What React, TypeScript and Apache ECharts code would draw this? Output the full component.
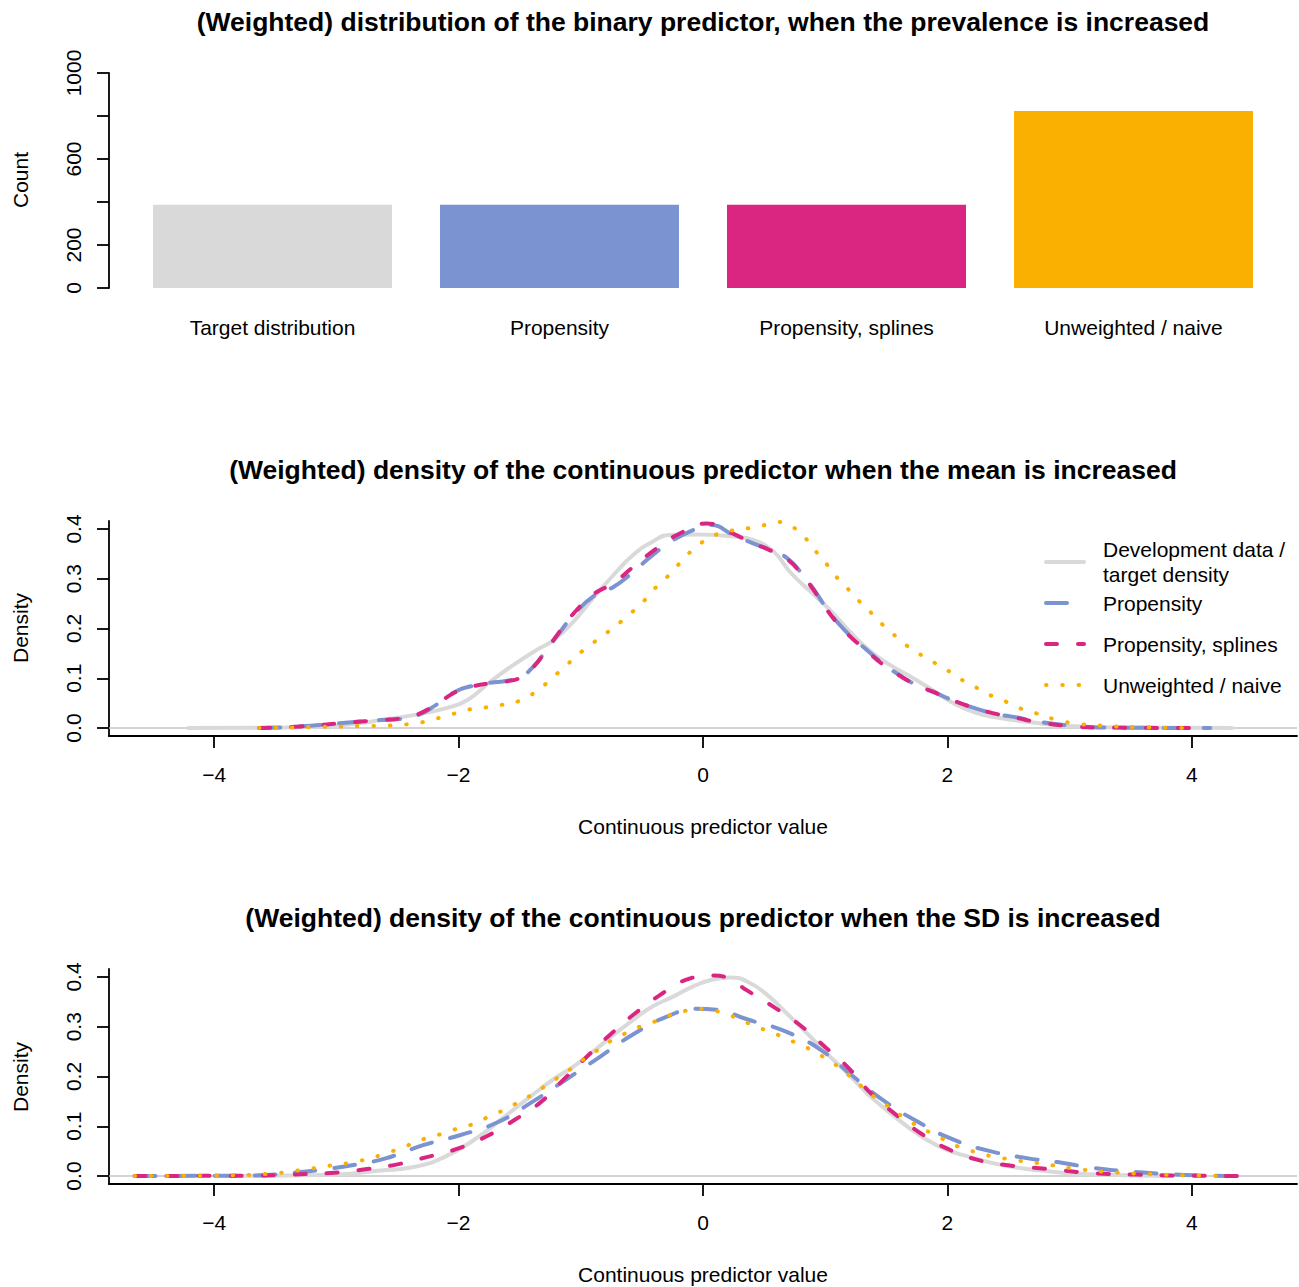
import React, { useEffect, useRef } from 'react';
import * as echarts from 'echarts';

// ---------- Data ----------
const barCategories = ['Target distribution', 'Propensity', 'Propensity, splines', 'Unweighted / naive'];
const barCounts = [387, 387, 387, 823];
const barColors = ['#D9D9D9', '#7B93D0', '#DA2680', '#F9B000'];
const countTicks = [0, 200, 400, 600, 800, 1000];
const countLabels = [0, 200, 600, 1000];

const densityXTicks = [-4, -2, 0, 2, 4];
const densityYTicks = [0, 0.1, 0.2, 0.3, 0.4];

const seriesNames = ['Development data /\ntarget density', 'Propensity', 'Propensity, splines', 'Unweighted / naive'];
const seriesColors = ['#D9D9D9', '#7B93D0', '#DA2680', '#F9B000'];

const titles = [
  '(Weighted) distribution of the binary predictor, when the prevalence is increased',
  '(Weighted) density of the continuous predictor when the mean is increased',
  '(Weighted) density of the continuous predictor when the SD is increased',
];

// Mean increased
const meanTarget = [
  [-4.21, 0], [-3.6, 0.0005], [-3.1, 0.003], [-2.8, 0.01], [-2.64, 0.016], [-2.37, 0.026], [-2.1, 0.04],
  [-1.93, 0.056], [-1.74, 0.093], [-1.55, 0.127], [-1.36, 0.157], [-1.22, 0.177], [-1.06, 0.214], [-0.9, 0.261],
  [-0.73, 0.308], [-0.57, 0.348], [-0.41, 0.375], [-0.27, 0.388], [-0.05, 0.389], [0.25, 0.385], [0.41, 0.378],
  [0.58, 0.354], [0.71, 0.314], [0.88, 0.274], [1.04, 0.237], [1.2, 0.194], [1.37, 0.154], [1.53, 0.127],
  [1.72, 0.1], [1.88, 0.076], [2.05, 0.05], [2.24, 0.03], [2.43, 0.02], [2.7, 0.011], [3.0, 0.004],
  [3.5, 0.001], [4.33, 0],
];
const meanPropensity = [
  [-3.63, 0], [-3.3, 0.003], [-2.9, 0.011], [-2.64, 0.016], [-2.48, 0.018], [-2.35, 0.024], [-2.18, 0.047],
  [-2.02, 0.074], [-1.88, 0.085], [-1.74, 0.091], [-1.6, 0.095], [-1.49, 0.103], [-1.39, 0.123], [-1.28, 0.157],
  [-1.17, 0.193], [-1.06, 0.227], [-0.9, 0.264], [-0.73, 0.284], [-0.57, 0.314], [-0.41, 0.348], [-0.24, 0.378],
  [-0.08, 0.398], [0.06, 0.408], [0.25, 0.388], [0.41, 0.371], [0.55, 0.358], [0.69, 0.341], [0.82, 0.307],
  [0.9, 0.281], [1.01, 0.241], [1.12, 0.207], [1.23, 0.18], [1.34, 0.157], [1.47, 0.13], [1.61, 0.106],
  [1.75, 0.086], [1.88, 0.073], [2.05, 0.055], [2.21, 0.041], [2.37, 0.03], [2.57, 0.021], [2.74, 0.013],
  [3.0, 0.005], [3.3, 0.001], [4.15, 0],
];
const meanSplines = [
  [-3.63, 0], [-3.3, 0.003], [-2.9, 0.011], [-2.64, 0.016], [-2.48, 0.019], [-2.35, 0.026], [-2.18, 0.048],
  [-2.02, 0.073], [-1.88, 0.084], [-1.74, 0.09], [-1.6, 0.094], [-1.49, 0.102], [-1.39, 0.122], [-1.28, 0.157],
  [-1.17, 0.195], [-1.06, 0.23], [-0.9, 0.268], [-0.73, 0.292], [-0.57, 0.324], [-0.38, 0.361], [-0.19, 0.391],
  [0.03, 0.411], [0.25, 0.39], [0.41, 0.371], [0.55, 0.357], [0.69, 0.339], [0.82, 0.305], [0.9, 0.279],
  [1.01, 0.239], [1.12, 0.205], [1.23, 0.178], [1.34, 0.155], [1.47, 0.128], [1.61, 0.105], [1.75, 0.086],
  [1.88, 0.073], [2.05, 0.055], [2.21, 0.041], [2.37, 0.03], [2.57, 0.02], [2.74, 0.012], [3.0, 0.004],
  [3.3, 0.001], [4.02, 0],
];
const meanNaive = [
  [-3.63, 0], [-3.2, 0.002], [-2.8, 0.004], [-2.57, 0.005], [-2.44, 0.007], [-2.31, 0.011], [-2.18, 0.019],
  [-2.05, 0.028], [-1.92, 0.037], [-1.79, 0.041], [-1.66, 0.046], [-1.52, 0.053], [-1.41, 0.066], [-1.3, 0.086],
  [-1.2, 0.108], [-1.1, 0.13], [-1.0, 0.152], [-0.9, 0.171], [-0.79, 0.191], [-0.68, 0.212], [-0.58, 0.233],
  [-0.48, 0.256], [-0.4, 0.279], [-0.3, 0.302], [-0.21, 0.326], [-0.12, 0.35], [-0.02, 0.371], [0.1, 0.388],
  [0.22, 0.396], [0.36, 0.401], [0.49, 0.407], [0.62, 0.414], [0.74, 0.403], [0.84, 0.381], [0.92, 0.356],
  [1.01, 0.33], [1.09, 0.304], [1.18, 0.281], [1.27, 0.257], [1.37, 0.233], [1.46, 0.21], [1.56, 0.188],
  [1.66, 0.167], [1.77, 0.149], [1.88, 0.133], [2.0, 0.116], [2.11, 0.098], [2.23, 0.082], [2.35, 0.066],
  [2.47, 0.054], [2.59, 0.04], [2.72, 0.03], [2.87, 0.018], [3.05, 0.009], [3.25, 0.005], [3.54, 0.002],
  [4.04, 0],
];

// SD increased
const sdTarget = [
  [-3.9, 0], [-3.4, 0.001], [-3.0, 0.003], [-2.64, 0.011], [-2.37, 0.018], [-2.1, 0.04], [-1.83, 0.08],
  [-1.62, 0.12], [-1.41, 0.16], [-1.22, 0.195], [-1.06, 0.22], [-0.9, 0.25], [-0.73, 0.284], [-0.57, 0.314],
  [-0.41, 0.341], [-0.24, 0.361], [-0.08, 0.381], [0.08, 0.395], [0.22, 0.399], [0.36, 0.391], [0.52, 0.365],
  [0.68, 0.328], [0.85, 0.287], [1.01, 0.247], [1.18, 0.207], [1.34, 0.167], [1.5, 0.133], [1.67, 0.1],
  [1.83, 0.073], [1.99, 0.053], [2.16, 0.04], [2.37, 0.026], [2.59, 0.016], [2.76, 0.011], [3.03, 0.005],
  [3.54, 0.001], [3.84, 0],
];
const sdPropensity = [
  [-4.65, 0], [-4.0, 0.0005], [-3.68, 0.001], [-3.37, 0.006], [-3.05, 0.015], [-2.8, 0.025], [-2.59, 0.036],
  [-2.29, 0.062], [-1.99, 0.082], [-1.69, 0.107], [-1.39, 0.15], [-1.12, 0.194], [-0.84, 0.24], [-0.57, 0.285],
  [-0.27, 0.323], [-0.05, 0.336], [0.11, 0.334], [0.36, 0.315], [0.68, 0.29], [0.96, 0.254], [1.23, 0.2],
  [1.47, 0.153], [1.75, 0.11], [2.05, 0.073], [2.35, 0.05], [2.65, 0.036], [2.9, 0.028], [3.15, 0.018],
  [3.4, 0.011], [3.73, 0.005], [4.1, 0.001], [4.38, 0],
];
const sdSplines = [
  [-4.65, 0], [-4.0, 0.0005], [-3.68, 0.001], [-3.37, 0.003], [-2.99, 0.007], [-2.75, 0.014], [-2.53, 0.022],
  [-2.26, 0.038], [-2.02, 0.054], [-1.77, 0.08], [-1.54, 0.113], [-1.33, 0.148], [-1.14, 0.194], [-0.95, 0.24],
  [-0.76, 0.284], [-0.57, 0.324], [-0.35, 0.364], [-0.13, 0.395], [0.08, 0.403], [0.2, 0.398], [0.36, 0.373],
  [0.59, 0.338], [0.79, 0.304], [1.01, 0.257], [1.18, 0.22], [1.37, 0.167], [1.56, 0.127], [1.78, 0.086],
  [1.99, 0.056], [2.24, 0.033], [2.51, 0.021], [2.73, 0.016], [2.95, 0.011], [3.18, 0.006], [3.54, 0.003],
  [3.91, 0.001], [4.38, 0],
];
const sdNaive = [
  [-4.65, 0], [-4.0, 0.001], [-3.58, 0.004], [-3.32, 0.011], [-3.05, 0.021], [-2.8, 0.031], [-2.54, 0.05],
  [-2.42, 0.061], [-2.29, 0.074], [-2.16, 0.083], [-2.04, 0.093], [-1.91, 0.102], [-1.79, 0.115], [-1.67, 0.128],
  [-1.55, 0.143], [-1.43, 0.159], [-1.32, 0.176], [-1.21, 0.194], [-1.1, 0.212], [-0.99, 0.232], [-0.88, 0.25],
  [-0.77, 0.269], [-0.65, 0.285], [-0.53, 0.299], [-0.41, 0.309], [-0.29, 0.321], [-0.16, 0.331], [-0.03, 0.336],
  [0.1, 0.332], [0.23, 0.322], [0.35, 0.309], [0.47, 0.297], [0.6, 0.285], [0.72, 0.272], [0.84, 0.259],
  [0.96, 0.243], [1.07, 0.226], [1.18, 0.205], [1.28, 0.184], [1.38, 0.163], [1.49, 0.144], [1.6, 0.125],
  [1.71, 0.107], [1.83, 0.091], [1.95, 0.076], [2.07, 0.061], [2.19, 0.051], [2.32, 0.042], [2.45, 0.036],
  [2.58, 0.031], [2.71, 0.027], [2.85, 0.022], [3.1, 0.013], [3.39, 0.007], [3.65, 0.004], [4.05, 0.001],
  [4.31, 0],
];

const meanSeries = [meanTarget, meanPropensity, meanSplines, meanNaive];
const sdSeries = [sdTarget, sdPropensity, sdSplines, sdNaive];

// ---------- Styles ----------
const FONT = '"Liberation Sans", Arial, Helvetica, sans-serif';
const FS = 21;
const lineTypes: any[] = ['solid', [21, 19], [11, 21], [0.5, 15.8]];

const axisLineStyle = { color: '#000', width: 1.8 };
const minusFmt = (v: number) => String(v).replace('-', '\u2212');

function densityAxes(gridIndex: number) {
  const x = {
    type: 'value',
    gridIndex,
    min: -4.86,
    max: 4.86,
    axisLine: { show: true, onZero: false, lineStyle: axisLineStyle },
    axisTick: { show: true, length: 12, lineStyle: axisLineStyle, customValues: densityXTicks },
    axisLabel: {
      show: true, margin: 28, fontSize: FS, color: '#000', fontFamily: FONT,
      customValues: densityXTicks, formatter: minusFmt,
    },
    splitLine: { show: false },
  };
  const y = {
    type: 'value',
    gridIndex,
    min: -0.016,
    max: 0.416,
    axisLine: { show: true, onZero: false, lineStyle: axisLineStyle },
    axisTick: { show: true, length: 12, lineStyle: axisLineStyle, customValues: densityYTicks },
    axisLabel: {
      show: true, margin: 25, fontSize: FS, color: '#000', fontFamily: FONT, rotate: 90,
      customValues: densityYTicks, formatter: (v: number) => v.toFixed(1),
    },
    splitLine: { show: false },
  };
  return { x, y };
}

function densitySeries(sets: number[][][], axisIndex: number) {
  return sets.map((data, i) => ({
    type: 'line',
    name: seriesNames[i],
    xAxisIndex: axisIndex,
    yAxisIndex: axisIndex,
    data,
    smooth: 0.5,
    showSymbol: false,
    symbol: 'none',
    z: 3 + i,
    lineStyle: { color: seriesColors[i], width: 4, type: lineTypes[i], cap: 'round', join: 'round' },
    ...(i === 0
      ? {
          markLine: {
            silent: true,
            symbol: 'none',
            label: { show: false },
            z: 1,
            lineStyle: { color: '#C4C4C4', width: 1.5, type: 'solid' },
            data: [{ yAxis: 0 }],
          },
        }
      : {}),
  }));
}

function txt(text: string, x: number, y: number, opts: any = {}) {
  return {
    type: 'text',
    x,
    y,
    rotation: opts.rotation || 0,
    style: {
      text,
      fill: '#000',
      font: `${opts.bold ? 'bold ' : ''}${opts.size || FS}px ${FONT}`,
      align: opts.align || 'center',
      verticalAlign: 'middle',
      lineHeight: opts.lineHeight,
    },
  };
}

export default function App() {
  const ref = useRef<HTMLDivElement>(null);

  useEffect(() => {
    document.body.style.margin = '0';
    const chart = echarts.init(ref.current!, null, { renderer: 'svg' });

    const ax1 = densityAxes(1);
    const ax2 = densityAxes(2);

    const legendRows = [562, 603, 644, 685];
    const legendGraphics: any[] = [];
    seriesNames.forEach((name, i) => {
      const dash = lineTypes[i] === 'solid' ? null : lineTypes[i];
      legendGraphics.push({
        type: 'line',
        shape: { x1: 1046, y1: legendRows[i], x2: 1084, y2: legendRows[i] },
        style: { stroke: seriesColors[i], lineWidth: 4, lineDash: dash, lineCap: 'round' },
      });
      legendGraphics.push(txt(name, 1103, legendRows[i], { align: 'left', lineHeight: 25 }));
    });

    const option: any = {
      animation: false,
      textStyle: { fontFamily: FONT },
      grid: [
        { left: 129, width: 1148, top: 73, height: 215 },
        { left: 109, width: 1188, top: 521, height: 215 },
        { left: 109, width: 1188, top: 969, height: 215 },
      ],
      xAxis: [
        {
          type: 'category',
          gridIndex: 0,
          data: barCategories,
          axisLine: { show: false },
          axisTick: { show: false },
          axisLabel: { margin: 29, fontSize: FS, color: '#000', fontFamily: FONT },
          splitLine: { show: false },
        },
        ax1.x,
        ax2.x,
      ],
      yAxis: [
        {
          type: 'value',
          gridIndex: 0,
          min: 0,
          max: 1000,
          interval: 200,
          offset: 20,
          axisLine: { show: true, lineStyle: axisLineStyle },
          axisTick: { show: true, length: 12, lineStyle: axisLineStyle, customValues: countTicks },
          axisLabel: {
            margin: 25, fontSize: FS, color: '#000', fontFamily: FONT, rotate: 90,
            customValues: countLabels, formatter: (v: number) => String(v),
          },
          splitLine: { show: false },
        },
        ax1.y,
        ax2.y,
      ],
      series: [
        {
          type: 'bar',
          xAxisIndex: 0,
          yAxisIndex: 0,
          barWidth: 239,
          data: barCounts.map((v, i) => ({ value: v, itemStyle: { color: barColors[i] } })),
        },
        ...densitySeries(meanSeries, 1),
        ...densitySeries(sdSeries, 2),
      ],
      graphic: [
        txt(titles[0], 703, 22, { bold: true, size: 26.5 }),
        txt(titles[1], 703, 470, { bold: true, size: 26.5 }),
        txt(titles[2], 703, 918, { bold: true, size: 26.5 }),
        txt('Count', 20, 180, { rotation: Math.PI / 2 }),
        txt('Density', 20, 628, { rotation: Math.PI / 2 }),
        txt('Density', 20, 1077, { rotation: Math.PI / 2 }),
        txt('Continuous predictor value', 703, 826),
        txt('Continuous predictor value', 703, 1274),
        ...legendGraphics,
      ],
    };

    chart.setOption(option);
    return () => chart.dispose();
  }, []);

  return <div ref={ref} style={{ width: 1299, height: 1287 }} />;
}
